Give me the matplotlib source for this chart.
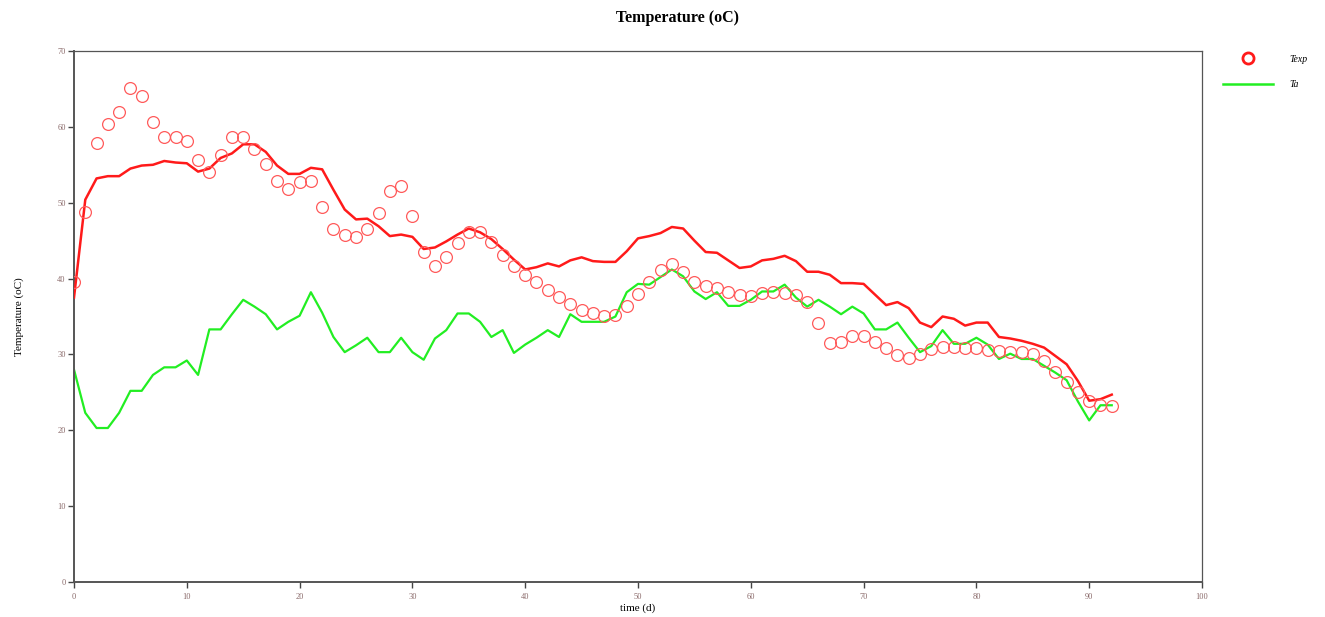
import matplotlib
matplotlib.use("Agg")
import matplotlib.pyplot as plt
from matplotlib.lines import Line2D

plt.rcParams['font.family'] = ['Liberation Serif', 'DejaVu Serif']

days = list(range(0, 93))

texp = [39.5, 48.8, 57.9, 60.4, 61.9, 65.1, 64.1, 60.7, 58.7, 58.7,
        58.2, 55.6, 54.1, 56.3, 58.6, 58.6, 57.1, 55.1, 52.8, 51.8,
        52.7, 52.8, 49.4, 46.6, 45.7, 45.5, 46.5, 48.7, 51.5, 52.2,
        48.3, 43.5, 41.7, 42.9, 44.7, 46.1, 46.2, 44.8, 43.1, 41.6,
        40.5, 39.5, 38.5, 37.6, 36.7, 35.9, 35.4, 35.1, 35.2, 36.4,
        38.0, 39.5, 41.1, 41.9, 40.9, 39.6, 39.0, 38.7, 38.2, 37.9,
        37.7, 38.1, 38.2, 38.1, 37.9, 36.9, 34.1, 31.5, 31.6, 32.4,
        32.4, 31.7, 30.9, 29.9, 29.5, 30.0, 30.7, 31.0, 31.0, 30.9,
        30.8, 30.6, 30.4, 30.3, 30.3, 30.1, 29.1, 27.7, 26.3, 25.0,
        23.9, 23.3, 23.2]

tmodel = [37.5, 50.4, 53.2, 53.5, 53.5, 54.5, 54.9, 55.0, 55.5, 55.3,
          55.2, 54.1, 54.5, 55.9, 56.5, 57.7, 57.7, 56.7, 54.9, 53.8,
          53.8, 54.6, 54.4, 51.7, 49.1, 47.8, 47.9, 46.9, 45.6, 45.8,
          45.5, 43.9, 44.1, 44.9, 45.8, 46.6, 46.1, 45.2, 43.9, 42.5,
          41.2, 41.5, 42.0, 41.6, 42.4, 42.8, 42.3, 42.2, 42.2, 43.6,
          45.3, 45.6, 46.0, 46.8, 46.6, 45.0, 43.5, 43.4, 42.4, 41.4,
          41.6, 42.4, 42.6, 43.0, 42.3, 40.9, 40.9, 40.5, 39.4, 39.4,
          39.3, 37.9, 36.5, 36.9, 36.1, 34.2, 33.6, 35.0, 34.7, 33.8,
          34.2, 34.2, 32.3, 32.1, 31.8, 31.4, 30.9, 29.8, 28.7, 26.5,
          23.9, 24.1, 24.7]

ta = [28.0, 22.3, 20.3, 20.3, 22.3, 25.2, 25.2, 27.3, 28.3, 28.3,
      29.2, 27.3, 33.3, 33.3, 35.3, 37.2, 36.3, 35.3, 33.3, 34.3,
      35.1, 38.2, 35.5, 32.3, 30.3, 31.2, 32.2, 30.3, 30.3, 32.2,
      30.3, 29.3, 32.1, 33.2, 35.4, 35.4, 34.3, 32.3, 33.2, 30.2,
      31.3, 32.2, 33.2, 32.3, 35.3, 34.3, 34.3, 34.3, 35.0, 38.2,
      39.3, 39.2, 40.2, 41.2, 40.3, 38.3, 37.3, 38.2, 36.4, 36.4,
      37.2, 38.3, 38.3, 39.2, 37.5, 36.3, 37.2, 36.3, 35.3, 36.3,
      35.4, 33.3, 33.3, 34.2, 32.2, 30.3, 31.1, 33.2, 31.4, 31.4,
      32.2, 31.3, 29.4, 30.1, 29.4, 29.4, 28.5, 27.6, 26.6, 23.8,
      21.3, 23.3, 23.3]

xticks = [0, 10, 20, 30, 40, 50, 60, 70, 80, 90, 100]
yticks = [0, 10, 20, 30, 40, 50, 60, 70]

fig = plt.figure(figsize=(13.25, 6.17), dpi=100)
ax = fig.add_axes([74 / 1325, 1 - 582 / 617, (1202 - 74) / 1325, (582 - 51) / 617])

ax.plot(days, tmodel, color='#ff1a1a', lw=1.8, zorder=3)
ax.plot(days, ta, color='#22ee22', lw=1.6, zorder=2)
ax.plot(days, texp, linestyle='none', marker='o', markersize=8.5,
        markerfacecolor='none', markeredgecolor='#ff5a5a', markeredgewidth=0.9, zorder=4)

ax.set_xlim(0, 100)
ax.set_ylim(0, 70)
ax.set_xticks(xticks)
ax.set_yticks(yticks)
ax.tick_params(axis='both', labelsize=6, colors='#444444', length=4, width=1)
ax.tick_params(axis='x', pad=4)
ax.tick_params(axis='y', pad=2)
for lbl in ax.get_xticklabels() + ax.get_yticklabels():
    lbl.set_color('#8a6a6a')
for side in ['left', 'bottom']:
    ax.spines[side].set_color('#555555')
    ax.spines[side].set_linewidth(1.4)
for side in ['top', 'right']:
    ax.spines[side].set_color('#555555')
    ax.spines[side].set_linewidth(0.9)

ax.set_xlabel('time (d)', fontsize=8, labelpad=2)
ax.set_ylabel('Temperature (oC)', fontsize=8, labelpad=24)
fig.text(678 / 1325, 1 - 18 / 617, 'Temperature (oC)', ha='center', va='center',
         fontsize=11.5, fontweight='bold')

handles = [Line2D([], [], linestyle='none', marker='o', markersize=8, markerfacecolor='none',
                  markeredgecolor='#ff1a1a', markeredgewidth=2.0),
           Line2D([], [], color='#22ee22', lw=1.8)]
leg = fig.legend(handles, ['Texp', 'Ta'], loc='upper left', bbox_to_anchor=(1214 / 1325, 1 - 46 / 617),
                 frameon=False, handlelength=5.2, labelspacing=1.7, handletextpad=1.6,
                 prop={'size': 7, 'style': 'italic'})

fig.savefig('out.png', dpi=100)
